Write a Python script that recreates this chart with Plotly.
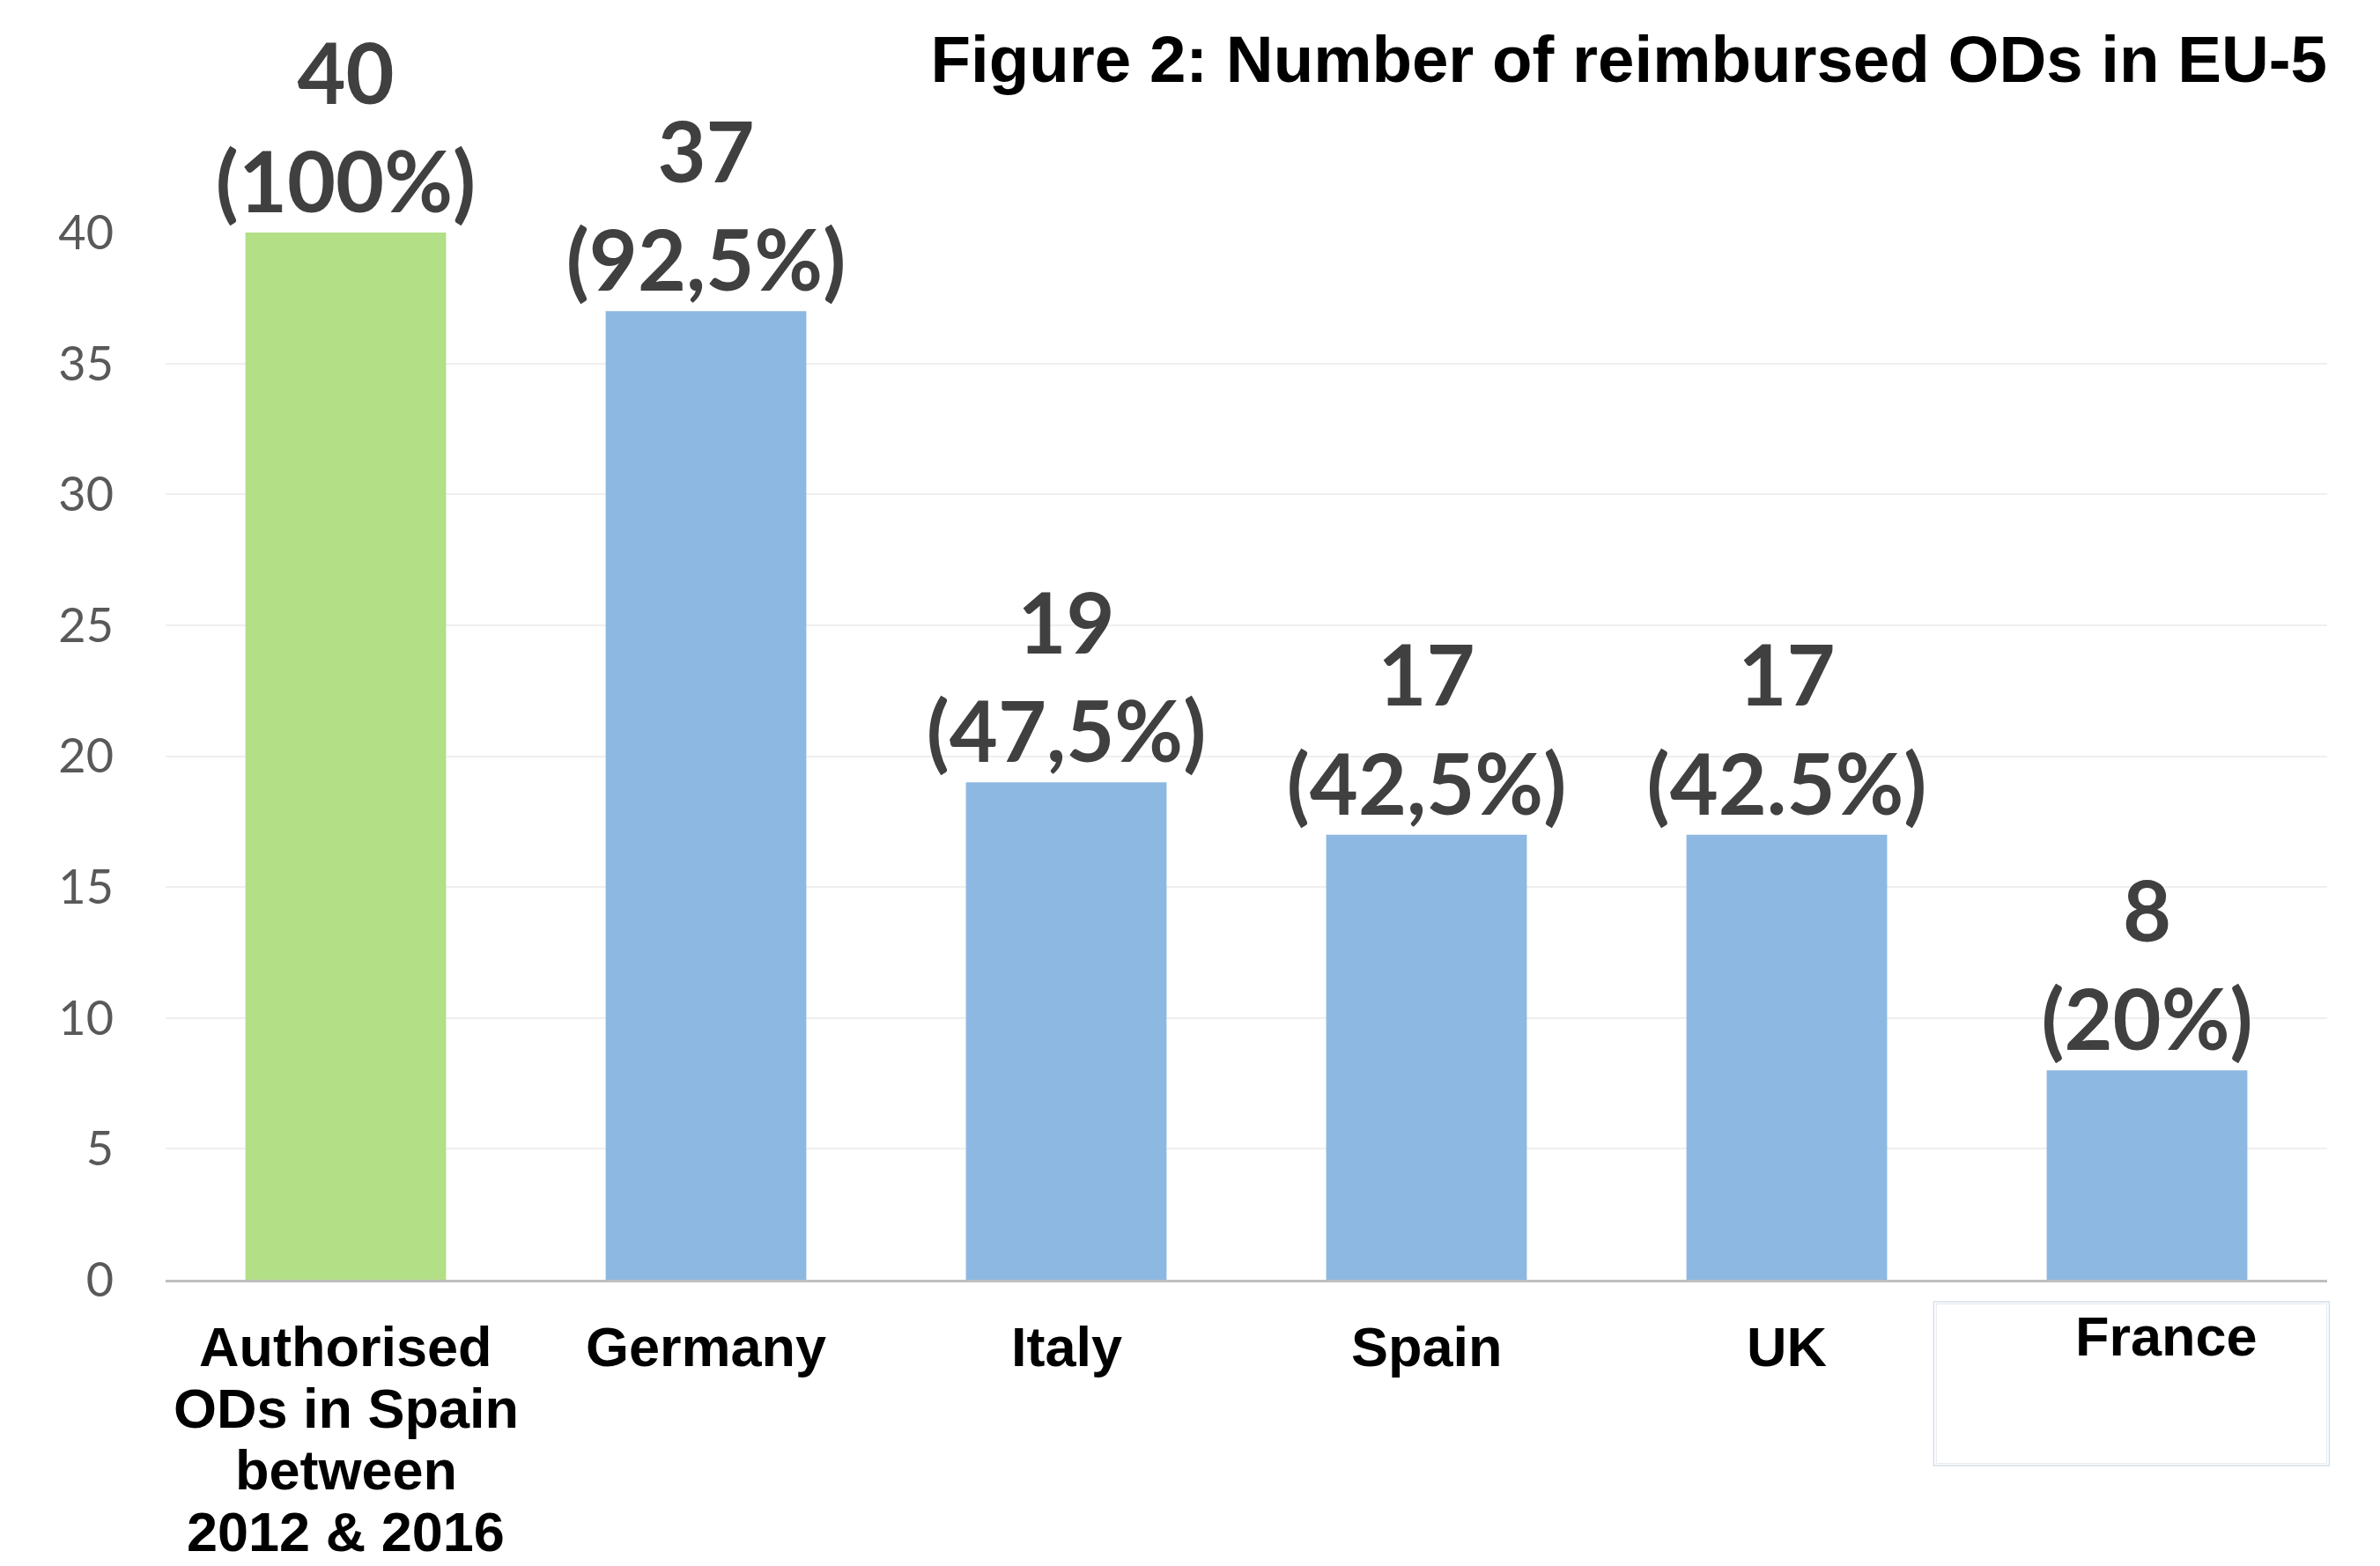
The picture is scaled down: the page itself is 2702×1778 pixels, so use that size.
import plotly.graph_objects as go

# ---- data ----
categories = ["Authorised", "Germany", "Italy", "Spain", "UK", "France"]
category_lines = [
    ["Authorised", "ODs in Spain", "between", "2012 & 2016"],
    ["Germany"],
    ["Italy"],
    ["Spain"],
    ["UK"],
    ["France"],
]
values = [40, 37, 19, 17, 17, 8]
pct_labels = ["(100%)", "(92,5%)", "(47,5%)", "(42,5%)", "(42.5%)", "(20%)"]
y_ticks = [0, 5, 10, 15, 20, 25, 30, 35, 40]
title_text = "Figure 2: Number of reimbursed ODs in EU-5"

GREEN = "#b3df87"
BLUE = "#8db8e1"
bar_colors = [GREEN] + [BLUE] * (len(categories) - 1)

# page body has an 8px margin; figure is sized to fit the window exactly
W, H = 2694, 1770
fig = go.Figure()
fig.add_trace(go.Bar(
    x=categories,
    y=values,
    marker=dict(color=bar_colors, line=dict(width=0)),
    customdata=pct_labels,
    texttemplate="%{y}<br>%{customdata}",
    textposition="outside",
    constraintext="none",
    cliponaxis=False,
    textfont=dict(family="Lato", size=95, color="#404040", weight=700),
    hoverinfo="skip",
))

# category labels (line by line to control line spacing)
LINE_STEP = 70
for cat, lines in zip(categories, category_lines):
    is_france = cat == "France"
    for i, line in enumerate(lines):
        fig.add_annotation(
            x=cat, y=0, xref="x", yref="y",
            text=line, showarrow=False,
            yanchor="top", xanchor="center",
            xshift=22 if is_france else 0,
            yshift=-(27 if is_france else 39) - i * LINE_STEP,
            font=dict(family="Liberation Sans, Arial", size=63, color="#000000", weight=700),
        )

# France label box (decorative double frame)
fig.add_shape(type="rect", xref="paper", yref="paper",
              x0=0.818, x1=1.001, y0=-0.1775, y1=-0.021,
              line=dict(color="#d5dfea", width=1.5), layer="above")
fig.add_shape(type="rect", xref="paper", yref="paper",
              x0=0.8192, x1=0.9998, y0=-0.1755, y1=-0.023,
              line=dict(color="#e3e9f0", width=1), layer="above")

fig.update_layout(
    width=W, height=H,
    margin=dict(l=180, r=60, t=256, b=325),
    paper_bgcolor="white", plot_bgcolor="white",
    bargap=0.443,
    showlegend=False,
    title=dict(
        text=title_text,
        font=dict(family="Liberation Sans, Arial", size=74.5, color="#000000", weight=700),
        x=2634 / W, xanchor="right", xref="container",
        y=1 - 59 / H, yanchor="middle", yref="container",
    ),
)
fig.update_xaxes(
    type="category",
    showticklabels=False,
    showgrid=False,
    showline=True, linecolor="#bfbfbf", linewidth=3,
    ticks="",
    zeroline=False,
)
fig.update_yaxes(
    range=[0, 40],
    tickvals=y_ticks,
    showgrid=True, gridcolor="#efefef", gridwidth=1.5,
    zeroline=False,
    showline=False,
    ticks="",
    ticklabelstandoff=58,
    tickfont=dict(family="Lato", size=54, color="#595959"),
)

fig.write_html("out.html")
